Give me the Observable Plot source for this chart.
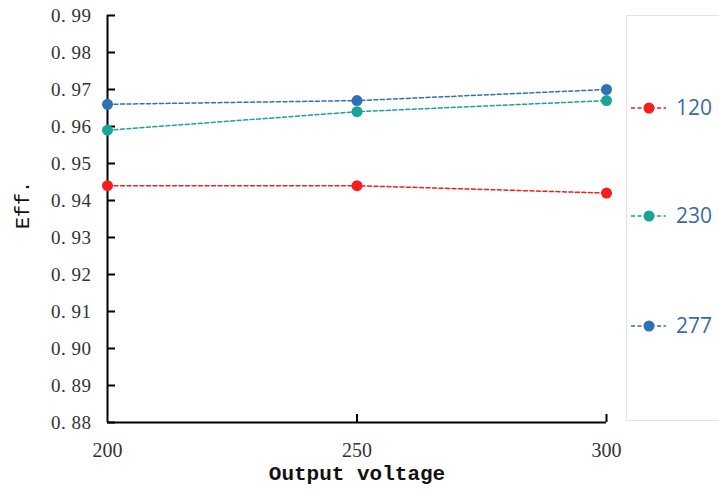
<!DOCTYPE html>
<html>
<head>
<meta charset="utf-8">
<script src="https://cdn.jsdelivr.net/npm/d3@7"></script>
<script src="https://cdn.jsdelivr.net/npm/@observablehq/plot@0.6"></script>
<style>
  html, body { margin: 0; padding: 0; background: #fff; }
  #wrap { position: relative; width: 719px; height: 496px; overflow: hidden; }
  #legend { position: absolute; left: 626px; top: 15px; width: 110px; height: 406px;
            border: 1px solid #e4e4e4; box-sizing: border-box; background: #fff; }
</style>
</head>
<body>
<div id="wrap"><div id="chart"></div><div id="legend"></div></div>
<script>
const voltages = [200, 250, 300];
const seriesNames = ["120", "230", "277"];
const eff120 = [0.944, 0.944, 0.942];
const eff230 = [0.959, 0.964, 0.967];
const eff277 = [0.966, 0.967, 0.970];
const colors = ["#f51d1d", "#18a497", "#2e72b6"];
const yTicks = [0.88, 0.89, 0.90, 0.91, 0.92, 0.93, 0.94, 0.95, 0.96, 0.97, 0.98, 0.99];
const xTicks = [200, 250, 300];

const allSeries = [eff120, eff230, eff277];
const data = [];
seriesNames.forEach((s, i) => voltages.forEach((v, j) => data.push({series: s, v, eff: allSeries[i][j]})));

const fmtY = d => d.toFixed(2).replace(".", ". ");

const plot = Plot.plot({
  width: 626,
  height: 496,
  marginLeft: 107,
  marginRight: 20,
  marginTop: 15,
  marginBottom: 74,
  style: {background: "#fff"},
  x: {domain: [200, 300]},
  y: {domain: [0.88, 0.99]},
  color: {domain: seriesNames, range: colors},
  marks: [
    Plot.axisY({ticks: yTicks, tickSize: 0, tickPadding: 16, tickFormat: fmtY, label: null}),
    Plot.axisY({ticks: yTicks, tickSize: 8, dx: 8, text: null, stroke: "#000", strokeWidth: 2, label: null}),
    Plot.axisX({ticks: xTicks, tickSize: 0, tickPadding: 20, tickFormat: d => String(d), label: null}),
    Plot.axisX({ticks: xTicks.slice(1), tickSize: 8, dy: -8, text: null, stroke: "#000", strokeWidth: 2, label: null}),
    Plot.ruleX([200], {stroke: "#000", strokeWidth: 2}),
    Plot.ruleY([0.88], {stroke: "#000", strokeWidth: 2}),
    Plot.line(data, {x: "v", y: "eff", z: "series", stroke: "series", strokeWidth: 1.5, strokeDasharray: "4,2.5"}),
    Plot.dot(data, {x: "v", y: "eff", fill: "series", r: 5.5, stroke: "none"}),
    Plot.text(["Output voltage"], {frameAnchor: "bottom", dy: 57, fontFamily: "Liberation Mono", fontSize: 21, fontWeight: "bold", fill: "#111"}),
    Plot.text(["Eff."], {frameAnchor: "left", dx: -85, dy: 10, rotate: -90, fontFamily: "Liberation Mono", fontSize: 20, fill: "#111"})
  ]
});
document.getElementById("chart").appendChild(plot);

// tick label font styling
const yTexts = new Set(yTicks.map(fmtY));
const xTexts = new Set(xTicks.map(String));
d3.select(plot).selectAll("text").each(function() {
  const t = this.textContent;
  if (yTexts.has(t) || xTexts.has(t)) {
    const size = yTexts.has(t) ? 19 : 20;
    d3.select(this)
      .attr("font-family", "Liberation Serif").attr("font-size", size).attr("fill", "#333")
      .style("font-family", "'Liberation Serif', serif").style("font-size", size + "px")
      .style("letter-spacing", yTexts.has(t) ? "0.5px" : "0px");
  }
});

// legend
const lg = d3.select("#legend").append("svg").attr("width", 110).attr("height", 404);
const itemY = [92, 200, 310];
seriesNames.forEach((s, i) => {
  const g = lg.append("g").attr("transform", `translate(0,${itemY[i]})`);
  g.append("line").attr("x1", 4).attr("x2", 39).attr("y1", 0).attr("y2", 0)
    .attr("stroke", colors[i]).attr("stroke-width", 1.5).attr("stroke-dasharray", "4,2.5");
  g.append("circle").attr("cx", 22).attr("cy", 0).attr("r", 5.5).attr("fill", colors[i]);
  g.append("text").attr("x", 49).attr("y", 0).attr("dy", "0.35em")
    .attr("font-family", "Open Sans").attr("font-size", 21).attr("fill", "#3b6aa8").text(s);
});
</script>
</body>
</html>
